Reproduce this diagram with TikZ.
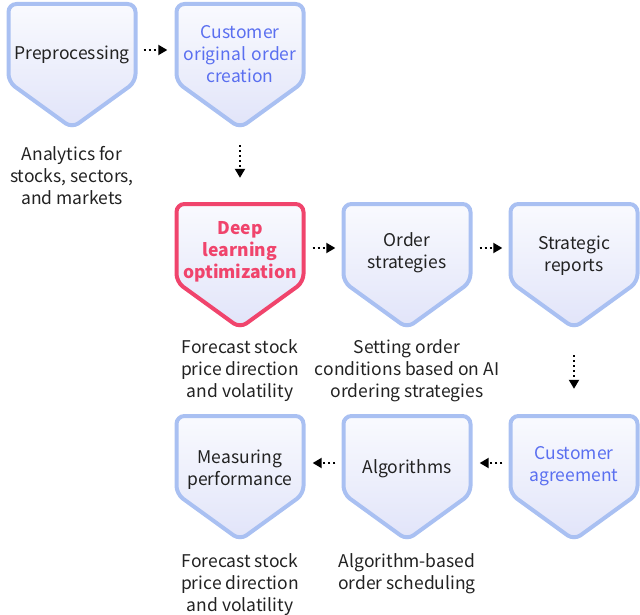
\documentclass[tikz,border=0pt]{standalone}
\usepackage{fontspec}
\setmainfont{Noto Sans CJK KR}
\usepackage{tikz}
\usetikzlibrary{positioning,backgrounds,arrows.meta}
\definecolor{boxblue}{HTML}{A9C0F2}
\definecolor{boxred}{HTML}{F0446C}
\definecolor{textblue}{HTML}{5A6FF0}
\definecolor{filltop}{HTML}{F9FAFE}
\definecolor{fillbot}{HTML}{E1E4F9}
\definecolor{textdark}{HTML}{222222}
\newcommand{\bluetext}{\textcolor{textblue}}
\newcommand{\redtext}{\textcolor{boxred}}

\begin{document}
\begin{tikzpicture}[x=1pt,y=-1pt,
    stepnode/.style={minimum width=127pt,minimum height=92pt,inner sep=0pt,
      text width=125pt,align=center,text=textdark,
      font=\fontsize{17.5}{21.8}\selectfont},
    notenode/.style={inner sep=0pt,align=center,text=textdark,
      font=\fontsize{17.5}{22}\selectfont},
    flow/.style={line width=2pt,dash pattern=on 2pt off 3pt,
      -{Triangle[length=9pt,width=10pt]}},
    outline/.style={line width=4pt,rounded corners=8pt,
      top color=filltop,bottom color=fillbot}]
  \useasboundingbox (0,0) rectangle (640,615);

  %% first row
  \node[stepnode] (pre) at (72,55) {Preprocessing};
  \node[stepnode] (cust) at (240,54) {\bluetext{Customer\\original order\\creation}};
  \node[notenode,below=45pt of pre] (prenote) {Analytics for\\stocks, sectors,\\and markets};

  %% second row
  \node[stepnode] (deep) at (240,252) {\redtext{\bfseries Deep\\learning\\optimization}};
  \node[stepnode] (ord) at (407,253) {Order\\strategies};
  \node[stepnode] (strat) at (574,256) {Strategic\\reports};
  \node[notenode,below=41pt of deep] (deepnote) {Forecast stock\\price direction\\and volatility};
  \node[notenode,below=40pt of ord] (ordnote) {Setting order\\conditions based on AI\\ordering strategies};

  %% third row
  \node[stepnode] (agree) at (574,466) {\bluetext{Customer\\agreement}};
  \node[stepnode] (algo) at (407,469) {Algorithms};
  \node[stepnode] (meas) at (240,470) {Measuring\\performance};
  \node[notenode,below=37pt of meas] (measnote) {Forecast stock\\price direction\\and volatility};
  \node[notenode,below=38pt of algo] (algonote) {Algorithm-based\\order scheduling};

  %% the pentagons behind the texts (last value: centre to top)
  \begin{scope}[on background layer]
    \foreach \n/\c/\t in {pre/boxblue/51,cust/boxblue/50,deep/boxred/48,
        ord/boxblue/49,strat/boxblue/52,agree/boxblue/50,algo/boxblue/53,
        meas/boxblue/54}
      \draw[outline,draw=\c] ([shift={(-63.5,-\t)}]\n.center)
        -- ([shift={(63.5,-\t)}]\n.center)
        -- ([shift={(63.5,78-\t)}]\n.center)
        -- ([shift={(0,124-\t)}]\n.center)
        -- ([shift={(-63.5,78-\t)}]\n.center) -- cycle;
  \end{scope}

  %% connectors
  \draw[flow] ([xshift=8pt,yshift=5pt]pre.east) -- ([xshift=-9pt,yshift=4pt]cust.west);
  \draw[flow] ([yshift=-45pt]cust.south) -- ([yshift=28pt]deep.north);
  \draw[flow] ([xshift=9pt,yshift=4pt]deep.east) -- ([xshift=-8pt,yshift=5pt]ord.west);
  \draw[flow] ([xshift=9pt,yshift=5pt]ord.east) -- ([xshift=-8pt,yshift=8pt]strat.west);
  \draw[flow] ([yshift=-53pt]strat.south) -- ([yshift=31pt]agree.north);
  \draw[flow] ([xshift=-8pt,yshift=3pt]agree.west) -- ([xshift=9pt,yshift=6pt]algo.east);
  \draw[flow] ([xshift=-8pt,yshift=6pt]algo.west) -- ([xshift=9pt,yshift=7pt]meas.east);
\end{tikzpicture}
\end{document}
